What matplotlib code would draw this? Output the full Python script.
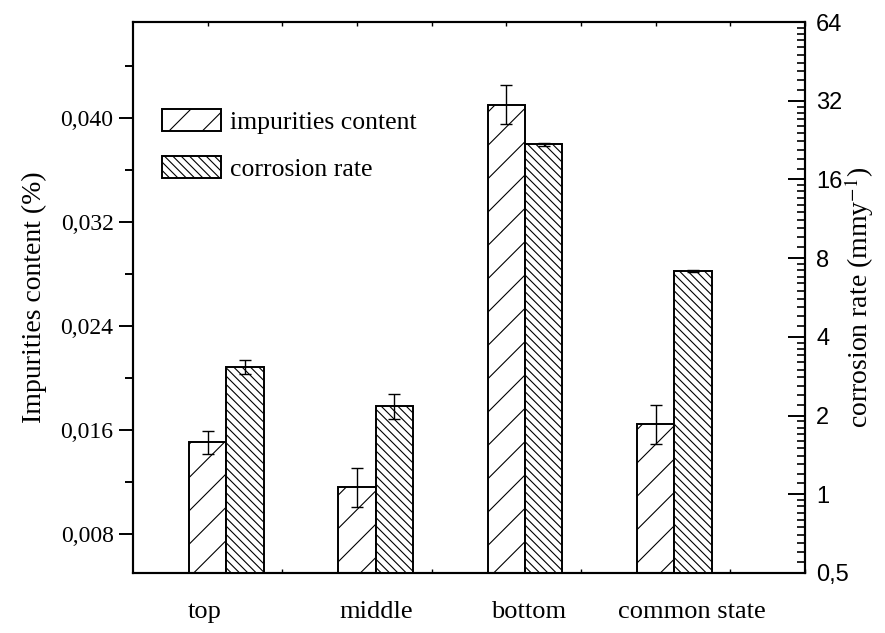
import matplotlib
matplotlib.use('Agg')
from matplotlib import pyplot as plt
from matplotlib.ticker import FixedLocator, FuncFormatter
import numpy as np

plt.rcParams['font.family'] = ['Liberation Serif', 'DejaVu Serif']
plt.rcParams['mathtext.fontset'] = 'stix'
plt.rcParams['hatch.linewidth'] = 0.8
plt.rcParams['hatch.color'] = '#333333'

categories = ['top', 'middle', 'bottom', 'common state']
impurities = [0.01505, 0.01159, 0.04105, 0.01644]
impurities_err = [0.0009, 0.0015, 0.0015, 0.00148]
corrosion = [3.07, 2.18, 21.8, 7.15]
corrosion_err = [0.18, 0.24, 0.3, 0.08]
label_x = [0.98, 2.13, 3.15, 4.24]

left_ticks = [0.008, 0.016, 0.024, 0.032, 0.040]
right_ticks = [0.5, 1, 2, 4, 8, 16, 32, 64]

fig = plt.figure(figsize=(8.85, 6.33), dpi=100)
ax = fig.add_axes([0.1503, 0.0948, 0.9096 - 0.1503, 0.9652 - 0.0948])
ax2 = ax.twinx()
ax2.set_yscale('log', base=2)

x = np.arange(1, len(categories) + 1)
w = 0.25

ax.bar(x, impurities, width=w, align='center', color='white', edgecolor='black',
       linewidth=1.4, hatch='/', label='impurities content', zorder=2)
ax.errorbar(x, impurities, yerr=impurities_err, fmt='none', ecolor='black',
            elinewidth=1.0, capsize=4, capthick=1.0, zorder=3)

ax2.bar(x + w, corrosion, width=w, align='center', color='white', edgecolor='black',
        linewidth=1.4, hatch='\\\\\\\\', label='corrosion rate', zorder=2)
ax2.errorbar(x + w, corrosion, yerr=corrosion_err, fmt='none', ecolor='black',
             elinewidth=1.0, capsize=4, capthick=1.0, zorder=3)

ax.set_xlim(0.5, 5.0)
ax.set_ylim(0.005, 0.0474)
ax2.set_ylim(0.5, 64)

# left axis
ax.yaxis.set_major_locator(FixedLocator(left_ticks))
ax.yaxis.set_minor_locator(FixedLocator([t + 0.004 for t in left_ticks]))
ax.yaxis.set_major_formatter(FuncFormatter(lambda v, p: f'{v:.3f}'.replace('.', ',')))
ax.tick_params(axis='y', which='major', direction='out', length=10, width=1.4,
               labelsize=17, pad=4)
ax.tick_params(axis='y', which='minor', direction='out', length=6, width=1.4)
ax.set_ylabel('Impurities content (%)', fontsize=20, labelpad=10)

# x axis: small inward ticks top and bottom, text labels
ax.xaxis.set_major_locator(FixedLocator(np.arange(1, 5.01, 0.5)))
ax.tick_params(axis='x', which='major', direction='in', length=3, width=1.0,
               top=True, bottom=True, labelbottom=False)
for xp, name in zip(label_x, categories):
    ax.text(xp, -0.07, name, transform=ax.get_xaxis_transform(), ha='center',
            va='center', fontsize=19)

# right axis
minor = [b * (1 + i / 10) for b in right_ticks[:-1] for i in range(1, 10)]
ax2.yaxis.set_major_locator(FixedLocator(right_ticks))
ax2.yaxis.set_minor_locator(FixedLocator(minor))
ax2.yaxis.set_major_formatter(FuncFormatter(lambda v, p: f'{v:g}'.replace('.', ',')))
ax2.yaxis.set_minor_formatter(FuncFormatter(lambda v, p: ''))
ax2.tick_params(axis='y', which='major', direction='in', length=12, width=1.4,
                labelsize=17, pad=8)
ax2.tick_params(axis='y', which='minor', direction='in', length=6, width=1.2)
for lab in ax2.get_yticklabels():
    lab.set_fontfamily(['Liberation Sans', 'DejaVu Sans'])
ax2.set_ylabel('corrosion rate (mmy$^{-1}$)', fontsize=20, labelpad=-5)

for a in (ax, ax2):
    for s in a.spines.values():
        s.set_linewidth(1.5)

h1, l1 = ax.get_legend_handles_labels()
h2, l2 = ax2.get_legend_handles_labels()
ax.legend(h1 + h2, l1 + l2, loc='upper left', bbox_to_anchor=(0.028, 0.86),
          frameon=False, fontsize=18.5, handlelength=2.3, handleheight=0.93,
          handletextpad=0.35, labelspacing=0.85, borderaxespad=0)

fig.savefig('out.png', dpi=100)
